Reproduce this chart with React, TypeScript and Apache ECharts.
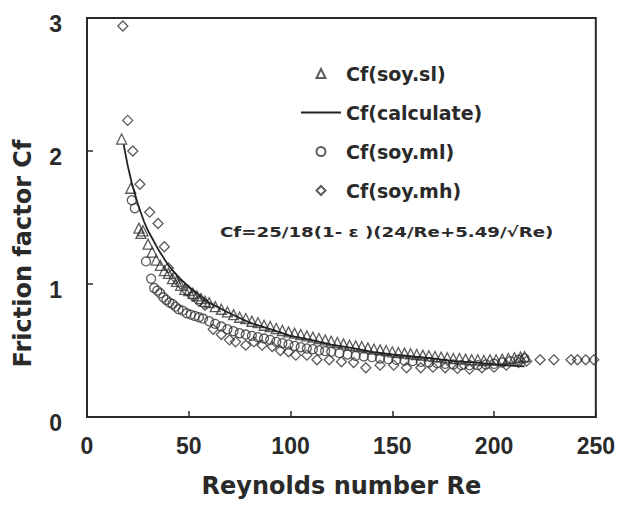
import React, { useEffect, useRef } from 'react';
import * as echarts from 'echarts';

// Calculated curve Cf(calculate)
const calcRe = [18, 20, 22, 25, 28, 30, 35, 40, 45, 50, 55, 60, 70, 80, 90, 100, 110, 120, 130, 140, 150, 160, 170, 180, 190, 200, 210, 215];
const calcCf = [2.05, 1.89, 1.76, 1.6, 1.47, 1.4, 1.26, 1.14, 1.05, 0.98, 0.92, 0.86, 0.78, 0.71, 0.66, 0.61, 0.58, 0.545, 0.52, 0.49, 0.47, 0.455, 0.44, 0.42, 0.41, 0.395, 0.385, 0.38];

// Cf(soy.sl) triangles
const slRe = [17, 21.5, 25.5, 26.5, 27.5, 30, 32, 34, 36, 38, 40, 42, 44, 46, 48, 50, 52, 54, 56, 58, 60, 63, 66, 69, 72, 75, 78, 81, 84, 87, 90, 93, 96, 99, 102, 105, 108, 111, 114, 117, 120, 123, 126, 129, 132, 135, 138, 141, 144, 147, 150, 153, 156, 159, 162, 165, 168, 171, 174, 177, 180, 183, 186, 189, 192, 195, 198, 201, 204, 207, 210, 213, 215];
const slCf = [2.09, 1.72, 1.42, 1.38, 1.4, 1.3, 1.24, 1.18, 1.14, 1.1, 1.08, 1.04, 1.02, 0.99, 0.96, 0.95, 0.93, 0.91, 0.89, 0.87, 0.86, 0.83, 0.81, 0.79, 0.77, 0.75, 0.74, 0.72, 0.71, 0.69, 0.68, 0.665, 0.65, 0.64, 0.63, 0.62, 0.61, 0.6, 0.59, 0.58, 0.57, 0.56, 0.55, 0.54, 0.535, 0.53, 0.52, 0.51, 0.505, 0.5, 0.49, 0.485, 0.48, 0.475, 0.47, 0.465, 0.46, 0.455, 0.45, 0.445, 0.44, 0.44, 0.435, 0.43, 0.43, 0.425, 0.43, 0.43, 0.435, 0.44, 0.445, 0.45, 0.455];

// Cf(soy.ml) circles
const mlRe = [22, 23.5, 29, 31.5, 33, 34.5, 36, 37.5, 39, 40.5, 42, 43.5, 45, 47, 49, 51, 53, 55, 57, 60, 63, 66, 69, 72, 75, 78, 81, 84, 87, 90, 93, 96, 99, 102, 105, 108, 111, 114, 117, 120, 124, 128, 132, 136, 140, 144, 148, 152, 156, 160, 164, 168, 172, 176, 180, 184, 188, 192, 196, 200, 204, 208, 212, 215];
const mlCf = [1.63, 1.57, 1.17, 1.04, 0.97, 0.95, 0.93, 0.9, 0.88, 0.86, 0.85, 0.83, 0.81, 0.8, 0.78, 0.77, 0.76, 0.75, 0.74, 0.72, 0.7, 0.68, 0.66, 0.645, 0.63, 0.62, 0.61, 0.6, 0.59, 0.58, 0.565, 0.555, 0.545, 0.535, 0.525, 0.515, 0.51, 0.5, 0.495, 0.49, 0.48, 0.47, 0.46, 0.455, 0.45, 0.44, 0.435, 0.43, 0.425, 0.42, 0.415, 0.41, 0.405, 0.4, 0.395, 0.39, 0.39, 0.39, 0.395, 0.4, 0.41, 0.42, 0.43, 0.44];

// Cf(soy.mh) diamonds
const mhRe = [17.6, 20, 22.5, 26, 30.8, 34.9, 38, 40, 43, 46, 49, 52, 55, 58, 62, 66, 70, 73, 78, 82, 86, 91, 95, 99, 102.6, 108, 113, 119, 125, 131, 137, 144, 150.7, 157, 164, 170, 176, 182, 188, 194, 200, 206, 212, 216, 222.6, 229.4, 237.8, 241, 245, 249];
const mhCf = [2.94, 2.23, 2.0, 1.75, 1.54, 1.455, 1.28, 1.12, 1.05, 1.0, 0.95, 0.91, 0.87, 0.84, 0.66, 0.62, 0.58, 0.565, 0.54, 0.565, 0.54, 0.53, 0.5, 0.49, 0.465, 0.465, 0.43, 0.43, 0.415, 0.41, 0.37, 0.39, 0.39, 0.37, 0.37, 0.375, 0.37, 0.365, 0.36, 0.37, 0.375, 0.39, 0.41, 0.42, 0.43, 0.43, 0.43, 0.43, 0.43, 0.43];

const xTickValues = [0, 50, 100, 150, 200, 250];
const yTickValues = [0, 1, 2, 3];

const zip = (a: number[], b: number[]) => a.map((v, i) => [v, b[i]]);

const INK = '#2a2a2a';
const TITLE_FONT = 'DejaVu Sans';
const NUM_FONT = 'Liberation Sans';

const ICON_TRIANGLE = 'path://M5,0 L10,10 L0,10 Z';
const ICON_CIRCLE = 'path://M5,0 A5,5 0 1,1 5,10 A5,5 0 1,1 5,0 Z';
const ICON_DIAMOND = 'path://M5,0 L10,5 L5,10 L0,5 Z';

export default function App() {
  const ref = useRef<HTMLDivElement>(null);
  useEffect(() => {
    if (!ref.current) return;
    const chart = echarts.init(ref.current, undefined, { renderer: 'svg' });
    const hollow = { color: 'rgba(0,0,0,0)', borderColor: '#333', borderWidth: 1.3 };
    chart.setOption({
      animation: false,
      backgroundColor: '#fff',
      grid: { left: 87, right: 20, top: 18, bottom: 98, show: true, borderColor: INK, borderWidth: 2, backgroundColor: 'transparent' },
      xAxis: {
        type: 'value', min: xTickValues[0], max: xTickValues[xTickValues.length - 1], interval: 50,
        axisLine: { show: true, lineStyle: { color: INK, width: 2 } },
        axisTick: { show: true, inside: true, length: 6, lineStyle: { color: INK, width: 1.5 } },
        splitLine: { show: false },
        axisLabel: { color: INK, fontFamily: NUM_FONT, fontSize: 23, fontWeight: 'bold', margin: 17 },
        name: 'Reynolds number Re', nameLocation: 'middle', nameGap: 57,
        nameTextStyle: { color: INK, fontFamily: TITLE_FONT, fontSize: 24, fontWeight: 'bold' },
      },
      yAxis: {
        type: 'value', min: yTickValues[0], max: yTickValues[yTickValues.length - 1], interval: 1,
        axisLine: { show: true, lineStyle: { color: INK, width: 2 } },
        axisTick: { show: true, inside: true, length: 6, lineStyle: { color: INK, width: 1.5 } },
        splitLine: { show: false },
        axisLabel: { color: INK, fontFamily: NUM_FONT, fontSize: 23, fontWeight: 'bold', margin: 25, verticalAlign: 'top', lineHeight: 12 },
        name: 'Friction factor Cf', nameLocation: 'middle', nameGap: 52,
        nameTextStyle: { color: INK, fontFamily: TITLE_FONT, fontSize: 24, fontWeight: 'bold', padding: [0, 72, 0, 0] },
      },
      legend: {
        orient: 'vertical', left: 295, top: 59, itemWidth: 40, itemHeight: 9, itemGap: 20,
        symbolKeepAspect: true,
        textStyle: { color: INK, fontFamily: TITLE_FONT, fontSize: 19, fontWeight: 'bold' },
        data: [
          { name: 'Cf(soy.sl)', icon: ICON_TRIANGLE },
          { name: 'Cf(calculate)', itemStyle: { opacity: 0 } },
          { name: 'Cf(soy.ml)', icon: ICON_CIRCLE },
          { name: 'Cf(soy.mh)', icon: ICON_DIAMOND },
        ],
      },
      graphic: [
        {
          type: 'text', x: 220, y: 232, scaleX: 1.3,
          style: { text: 'Cf=25/18(1- ε )(24/Re+5.49/√Re)', fill: INK, font: 'bold 14px "DejaVu Sans"', verticalAlign: 'middle' },
        },
      ],
      series: [
        { name: 'Cf(soy.sl)', type: 'scatter', symbol: 'triangle', symbolSize: 10, itemStyle: hollow, data: zip(slRe, slCf), z: 3 },
        { name: 'Cf(calculate)', type: 'line', symbol: 'none', showSymbol: false, lineStyle: { color: '#222', width: 1.8 }, itemStyle: { color: '#222' }, data: zip(calcRe, calcCf), z: 4 },
        { name: 'Cf(soy.ml)', type: 'scatter', symbol: 'circle', symbolSize: 9, itemStyle: hollow, data: zip(mlRe, mlCf), z: 3 },
        { name: 'Cf(soy.mh)', type: 'scatter', symbol: 'diamond', symbolSize: 10, itemStyle: hollow, data: zip(mhRe, mhCf), z: 3 },
      ],
    });
    return () => chart.dispose();
  }, []);
  return <div ref={ref} style={{ width: 618, height: 515, position: 'absolute', left: 0, top: 0 }} />;
}
